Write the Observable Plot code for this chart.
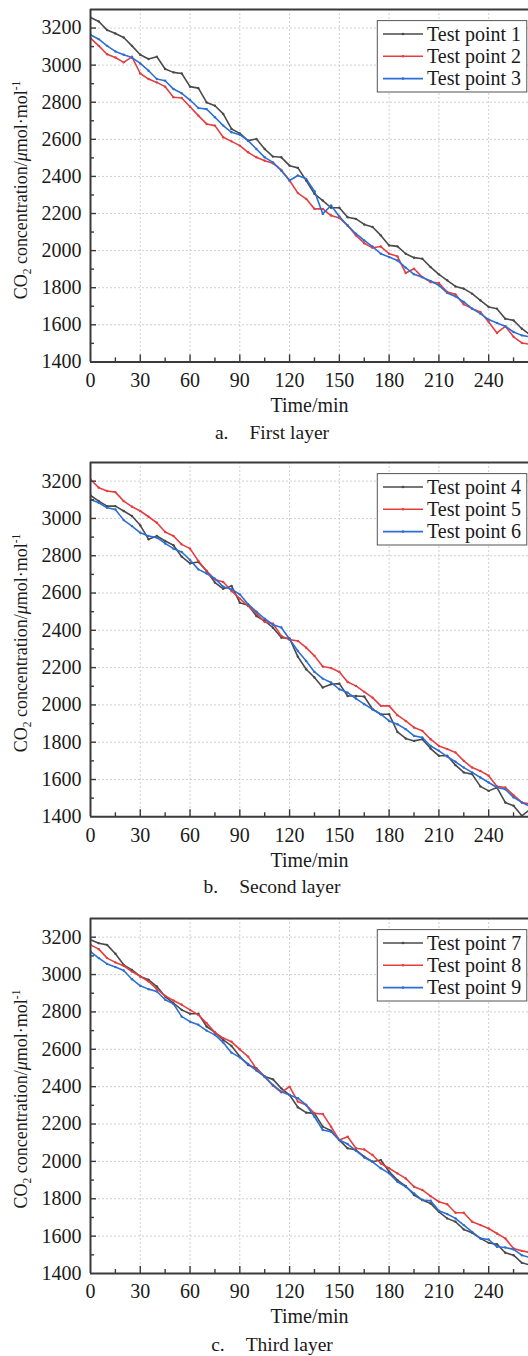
<!DOCTYPE html>
<html>
<head>
<meta charset="utf-8">
<script src="https://cdn.jsdelivr.net/npm/d3@7"></script>
<script src="https://cdn.jsdelivr.net/npm/@observablehq/plot@0.6"></script>
<style>
  html, body { margin: 0; padding: 0; background: #fff; overflow: hidden; }
  #wrap { position: relative; width: 528px; height: 1356px; overflow: hidden; font-family: "Liberation Serif", "Times New Roman", serif; color: #1a1a1a; }
  .panel { position: absolute; left: 0; }
  .cap { position: absolute; left: 0; width: 528px; padding-left: 8px; box-sizing: content-box; text-align: center; font-size: 19.5px; line-height: 19.5px; white-space: pre; }
</style>
</head>
<body>
<div id="wrap"></div>
<script>
// ---------- data ----------
const times = [0,5,10,15,20,25,30,35,40,45,50,55,60,65,70,75,80,85,90,95,100,105,110,115,120,125,
  130,135,140,145,150,155,160,165,170,175,180,185,190,195,200,205,210,215,220,225,230,235,240,245,250,255,260,265];

const tp1 = [3257,3235,3189,3171,3149,3104,3056,3033,3045,2979,2961,2955,2884,2876,2799,2781,2737,2656,2632,2593,2602,2548,2507,2503,2458,2446,
  2378,2306,2270,2231,2231,2180,2171,2141,2127,2082,2028,2023,1983,1962,1956,1911,1872,1840,1807,1795,1768,1732,1696,1687,1633,1624,1579,1545];
const tp2 = [3146,3104,3059,3041,3015,3045,2955,2925,2907,2884,2827,2823,2776,2728,2683,2674,2611,2589,2566,2530,2503,2485,2471,2435,2378,2310,
  2279,2225,2225,2189,2176,2135,2082,2040,2015,2022,1983,1969,1879,1902,1857,1830,1825,1777,1764,1710,1687,1669,1615,1556,1592,1535,1502,1495];
const tp3 = [3164,3140,3104,3074,3056,3041,3009,2970,2925,2916,2871,2848,2812,2769,2763,2719,2674,2638,2625,2593,2548,2503,2476,2431,2378,2405,
  2387,2320,2198,2243,2184,2135,2091,2055,2022,1983,1965,1947,1908,1872,1857,1836,1813,1772,1753,1723,1687,1660,1628,1610,1592,1561,1543,1535];

const tp4 = [3123,3093,3066,3066,3040,3013,2963,2888,2906,2879,2856,2795,2759,2766,2718,2656,2623,2638,2548,2534,2477,2450,2414,2361,2356,2258,
  2191,2147,2093,2111,2114,2048,2048,2045,1977,1950,1950,1855,1820,1807,1816,1766,1727,1727,1677,1638,1629,1563,1539,1557,1477,1459,1405,1440];
const tp5 = [3209,3165,3147,3141,3093,3063,3040,3009,2977,2927,2906,2861,2838,2772,2718,2673,2659,2611,2570,2531,2491,2445,2436,2370,2350,2343,
  2307,2263,2206,2198,2177,2123,2102,2070,2039,1995,1995,1945,1914,1879,1861,1816,1780,1763,1745,1700,1664,1646,1620,1563,1557,1516,1477,1468];
const tp6 = [3102,3084,3057,3048,2991,2959,2923,2906,2897,2866,2838,2820,2777,2727,2705,2677,2634,2620,2593,2540,2500,2462,2430,2415,2352,2289,
  2236,2177,2141,2120,2084,2066,2034,2004,1977,1950,1914,1896,1870,1834,1825,1780,1754,1723,1695,1664,1638,1611,1584,1557,1548,1504,1477,1455];

const tp7 = [3186,3168,3159,3111,3052,3025,2990,2972,2936,2882,2847,2811,2790,2790,2722,2690,2650,2618,2561,2516,2498,2454,2439,2391,2355,2290,
  2261,2257,2186,2164,2114,2070,2061,2025,1998,2007,1945,1900,1868,1820,1793,1775,1730,1695,1677,1636,1618,1588,1564,1557,1511,1498,1457,1445];
const tp8 = [3159,3136,3088,3065,3047,3016,2990,2963,2922,2886,2861,2838,2811,2784,2740,2690,2660,2640,2600,2561,2495,2452,2405,2370,2400,2320,
  2302,2257,2254,2186,2114,2132,2070,2064,2034,1989,1963,1936,1909,1864,1847,1814,1784,1771,1725,1725,1677,1659,1641,1614,1588,1534,1521,1512];
const tp9 = [3123,3088,3057,3040,3022,2975,2940,2922,2909,2865,2843,2775,2748,2731,2700,2677,2636,2582,2557,2522,2486,2454,2409,2373,2355,2338,
  2302,2239,2168,2159,2114,2093,2057,2021,1998,1963,1936,1891,1864,1829,1793,1789,1736,1718,1695,1659,1623,1588,1582,1543,1539,1529,1498,1485];

const names1 = ["Test point 1","Test point 2","Test point 3"];
const names2 = ["Test point 4","Test point 5","Test point 6"];
const names3 = ["Test point 7","Test point 8","Test point 9"];
const captionLetters = ["a.","b.","c."];
const captionTitles = ["First layer","Second layer","Third layer"];

const xLabels = [0,30,60,90,120,150,180,210,240];
const xMinor = [15,45,75,105,135,165,195,225,255];
const yLabels = [1400,1600,1800,2000,2200,2400,2600,2800,3000,3200];
const yMinor = [1500,1700,1900,2100,2300,2500,2700,2900,3100];
const colors = ["#4a4a4a","#e63e40","#2b6fd6"];

// ---------- layout ----------
const W = 528, ML = 90, MT = 10, MB = 60;
const frameTops = [9.3, 461.7, 918.3];
const innerH = [352.4, 354.3, 355];
const capBaselines = [439.5, 893, 1351];
const FONT = '"Liberation Serif", "Times New Roman", serif';
const FS = 20;
const axisColor = "#3a3a3a";

const panels = [
  {names: names1, series: [tp1, tp2, tp3]},
  {names: names2, series: [tp4, tp5, tp6]},
  {names: names3, series: [tp7, tp8, tp9]}
];

const wrap = document.getElementById("wrap");

panels.forEach((p, i) => {
  const H = innerH[i];
  const rows = [];
  p.series.forEach((vals, k) => vals.forEach((v, j) => rows.push({t: times[j], v, s: p.names[k]})));

  const chart = Plot.plot({
    width: W,
    height: MT + H + MB,
    marginLeft: ML, marginRight: 0, marginTop: MT, marginBottom: MB,
    x: {domain: [0, 264], axis: null},
    y: {domain: [1400, 3300], axis: null},
    color: {domain: p.names, range: colors},
    style: {fontFamily: FONT, fontSize: FS + "px", color: "#1a1a1a", background: "white", overflow: "visible"},
    marks: [
      Plot.ruleX(xLabels.slice(1), {x: d => d, stroke: "#c4c4c4", strokeWidth: 0.8, strokeDasharray: "2,2"}),
      Plot.ruleY(yLabels.slice(1), {y: d => d, stroke: "#c4c4c4", strokeWidth: 0.8, strokeDasharray: "2,2"}),
      Plot.line(rows, {x: "t", y: "v", z: "s", stroke: "s", strokeWidth: 1.6, clip: true}),
      Plot.dot(rows, {x: "t", y: "v", fill: "s", r: 1.2, clip: true}),
      // inward ticks
      Plot.tickX(xLabels.slice(1), {x: d => d, insetTop: H - 7, stroke: axisColor, strokeWidth: 1.4}),
      Plot.tickX(xMinor, {x: d => d, insetTop: H - 4, stroke: axisColor, strokeWidth: 1.4}),
      Plot.tickY(yLabels.slice(1), {y: d => d, insetRight: (W - ML) - 6, stroke: axisColor, strokeWidth: 1.4}),
      Plot.tickY(yMinor, {y: d => d, insetRight: (W - ML) - 4, stroke: axisColor, strokeWidth: 1.4}),
      // frame lines
      Plot.ruleY([1400], {stroke: axisColor, strokeWidth: 2}),
      Plot.ruleY([3300], {stroke: axisColor, strokeWidth: 2}),
      Plot.ruleX([0], {stroke: axisColor, strokeWidth: 2}),
      // tick labels
      Plot.text(xLabels, {x: d => d, frameAnchor: "bottom", lineAnchor: "middle", dy: 18.3, text: d => String(d), fill: "#1a1a1a", fontSize: FS}),
      Plot.text(yLabels, {y: d => d, frameAnchor: "left", lineAnchor: "middle", dx: -9, textAnchor: "end", text: d => String(d), fill: "#1a1a1a", fontSize: FS}),
      Plot.text(["Time/min"], {frameAnchor: "bottom", lineAnchor: "middle", dy: 43.5, text: d => d, fill: "#1a1a1a", fontSize: FS})
    ]
  });

  const svg = d3.select(chart);

  // y-axis label with sub/superscripts
  const yl = svg.append("text")
    .attr("transform", `translate(27,${MT + 181}) rotate(-90)`)
    .attr("text-anchor", "middle")
    .attr("font-family", FONT)
    .attr("font-size", 18)
    .attr("fill", "#1a1a1a");
  yl.append("tspan").text("CO");
  yl.append("tspan").attr("font-size", 11.5).attr("dy", 4).text("2");
  yl.append("tspan").attr("dy", -4).text(" concentration/");
  yl.append("tspan").attr("font-style", "italic").text("\u03bc");
  yl.append("tspan").text("mol\u00b7mol");
  yl.append("tspan").attr("font-size", 11.5).attr("dy", -7).text("-1");

  // legend
  const lg = svg.append("g").attr("font-family", FONT).attr("font-size", FS).attr("text-anchor", "start");
  lg.append("rect").attr("x", 377.3).attr("y", MT + 11.6).attr("width", 149.5).attr("height", 71.4)
    .attr("fill", "white").attr("stroke", "#555").attr("stroke-width", 1);
  const rowY = [25, 47.3, 69.6];
  p.names.forEach((n, k) => {
    const y = MT + rowY[k];
    lg.append("line").attr("x1", 383).attr("x2", 423).attr("y1", y).attr("y2", y)
      .attr("stroke", colors[k]).attr("stroke-width", 1.6);
    lg.append("circle").attr("cx", 403).attr("cy", y).attr("r", 1.3).attr("fill", colors[k]);
    lg.append("text").attr("x", 427).attr("y", y).attr("dy", "0.33em").attr("text-anchor", "start")
      .attr("fill", "#1a1a1a").text(n);
  });

  const div = document.createElement("div");
  div.className = "panel";
  div.style.top = (frameTops[i] - MT) + "px";
  div.appendChild(chart);
  wrap.appendChild(div);

  const cap = document.createElement("div");
  cap.className = "cap";
  cap.style.top = (capBaselines[i] - 16.3) + "px";
  const sp = document.createElement("span");
  sp.style.marginRight = "21px";
  sp.textContent = captionLetters[i];
  cap.appendChild(sp);
  cap.appendChild(document.createTextNode(captionTitles[i]));
  wrap.appendChild(cap);
});
</script>
</body>
</html>
